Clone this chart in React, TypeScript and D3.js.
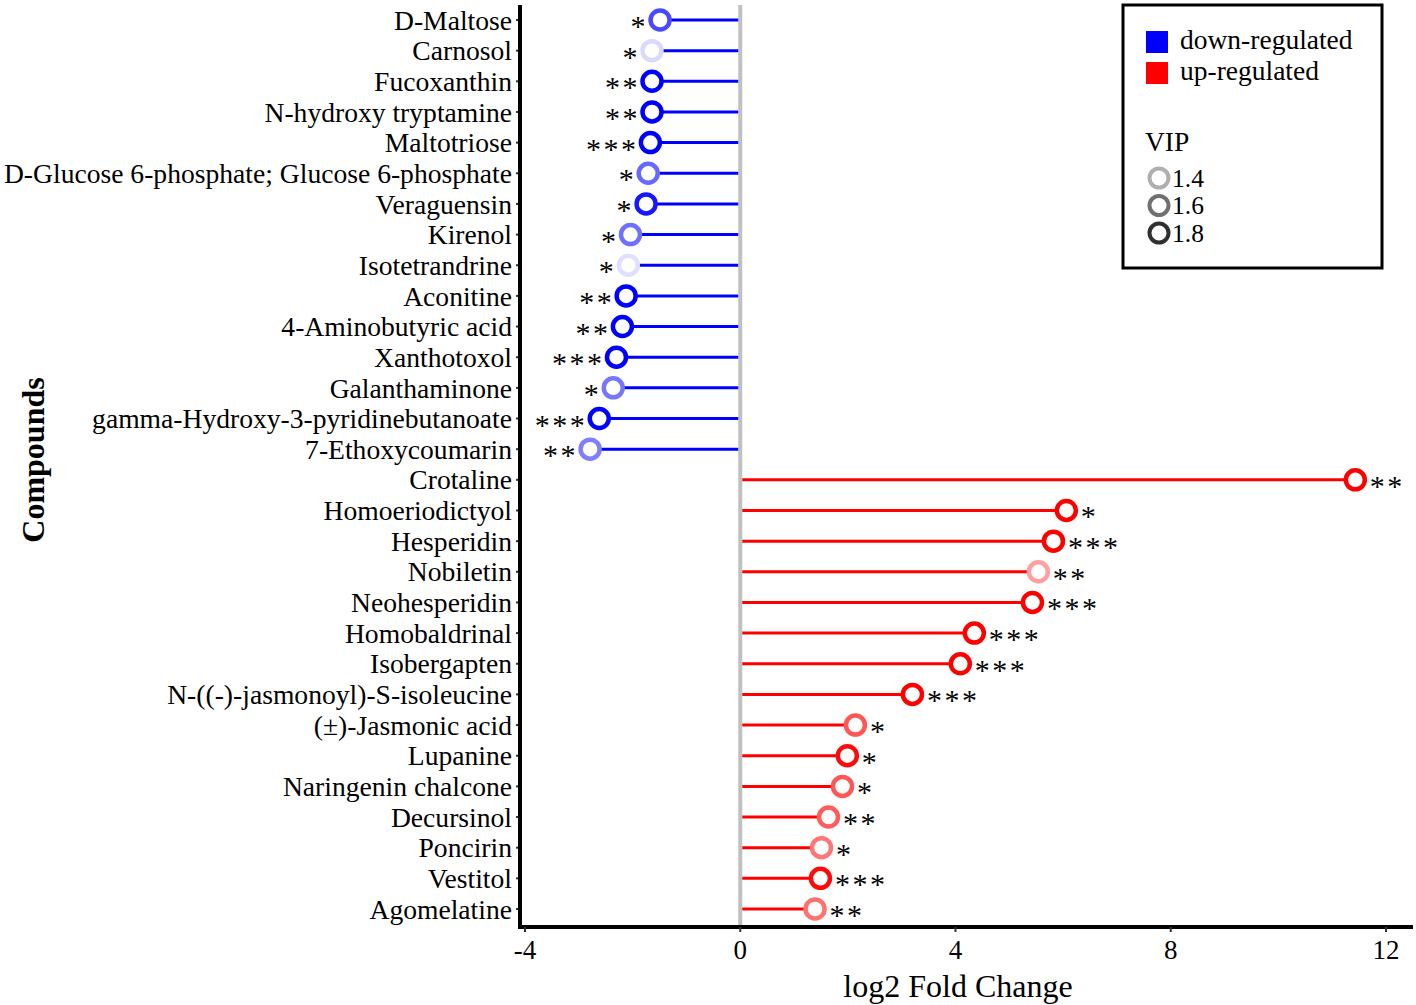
import React from "react";
import * as d3 from "d3";

const compounds = [
  "D-Maltose", "Carnosol", "Fucoxanthin", "N-hydroxy tryptamine", "Maltotriose",
  "D-Glucose 6-phosphate; Glucose 6-phosphate", "Veraguensin", "Kirenol", "Isotetrandrine",
  "Aconitine", "4-Aminobutyric acid", "Xanthotoxol", "Galanthaminone",
  "gamma-Hydroxy-3-pyridinebutanoate", "7-Ethoxycoumarin", "Crotaline", "Homoeriodictyol",
  "Hesperidin", "Nobiletin", "Neohesperidin", "Homobaldrinal", "Isobergapten",
  "N-((-)-jasmonoyl)-S-isoleucine", "(±)-Jasmonic acid", "Lupanine", "Naringenin chalcone",
  "Decursinol", "Poncirin", "Vestitol", "Agomelatine",
];
const log2FC = [
  -1.49, -1.64, -1.64, -1.64, -1.67, -1.71, -1.75, -2.04, -2.08, -2.12, -2.19, -2.3, -2.36,
  -2.62, -2.79, 11.43, 6.06, 5.82, 5.54, 5.43, 4.35, 4.09, 3.2, 2.14, 1.99, 1.9, 1.64, 1.51,
  1.49, 1.39,
];
const vip = [
  1.72, 1.27, 1.95, 1.95, 1.97, 1.62, 1.88, 1.6, 1.25, 1.95, 1.95, 1.95, 1.58, 1.95, 1.55,
  1.97, 1.95, 1.95, 1.45, 1.95, 1.95, 1.95, 1.95, 1.68, 1.92, 1.68, 1.66, 1.58, 1.92, 1.6,
];
const stars = [
  "*", "*", "**", "**", "***", "*", "*", "*", "*", "**", "**", "***", "*", "***", "**",
  "**", "*", "***", "**", "***", "***", "***", "***", "*", "*", "*", "**", "*", "***", "**",
];
const xTicks = [-4, 0, 4, 8, 12];
const legendVIP = [1.4, 1.6, 1.8];
const legendRegulation = [
  { label: "down-regulated", color: "#0000ff" },
  { label: "up-regulated", color: "#ff0000" },
];

const FONT = "'Liberation Serif', 'Times New Roman', serif";

export default function App() {
  const W = 1416, H = 1005;
  const left = 520, right = 1413, top = 5, bottom = 927;
  const x = d3.scaleLinear().domain([-4, 12]).range([525, 1386]);
  const y = d3.scalePoint<string>().domain(compounds).range([20, 909]);
  const t = d3.scaleLinear().domain([1.15, 1.95]).range([0, 1]).clamp(true);
  const colorFor = (v: number, base: string) => d3.interpolateRgb("#ffffff", base)(t(v));
  const x0 = x(0);
  const ls = 2.5;

  return (
    <svg width={W} height={H} style={{ position: "absolute", left: 0, top: 0, background: "#fff" }} fontFamily={FONT}>
      {/* zero line */}
      <line x1={x0} x2={x0} y1={top} y2={bottom} stroke="#c0c0c0" strokeWidth={4} />
      {compounds.map((c, i) => {
        const v = log2FC[i];
        const base = v < 0 ? "#0000ff" : "#ff0000";
        const cx = x(v);
        const cy = y(c)!;
        const r = 9.5;
        return (
          <g key={c}>
            <line x1={v < 0 ? x0 - 2 : x0 + 2} x2={cx} y1={cy} y2={cy} stroke={base} strokeWidth={3} />
            <circle cx={cx} cy={cy} r={r} fill="#fff" stroke={colorFor(vip[i], base)} strokeWidth={4.5} />
            <text
              x={v < 0 ? cx - r - 5 + ls : cx + r + 5}
              y={cy + 16}
              fontSize={30}
              letterSpacing={ls}
              textAnchor={v < 0 ? "end" : "start"}
              fill="#000"
            >
              {stars[i]}
            </text>
            <text x={left - 8} y={cy} dy="0.35em" fontSize={27.6} textAnchor="end" fill="#000">
              {c}
            </text>
            <line x1={left - 4} x2={left} y1={cy} y2={cy} stroke="#333" strokeWidth={2} />
          </g>
        );
      })}
      {/* axes */}
      <line x1={left} x2={left} y1={top} y2={bottom + 2} stroke="#000" strokeWidth={4} />
      <line x1={left - 2} x2={right} y1={bottom} y2={bottom} stroke="#000" strokeWidth={4} />
      {xTicks.map((tk) => (
        <g key={tk}>
          <line x1={x(tk)} x2={x(tk)} y1={bottom} y2={bottom + 5} stroke="#333" strokeWidth={2} />
          <text x={x(tk)} y={959} fontSize={27} textAnchor="middle" fill="#000">
            {tk}
          </text>
        </g>
      ))}
      <text x={958} y={997} fontSize={32} textAnchor="middle" fill="#000">
        log2 Fold Change
      </text>
      <text
        transform="translate(44,460) rotate(-90)"
        fontSize={32}
        fontWeight="bold"
        textAnchor="middle"
        fill="#000"
      >
        Compounds
      </text>
      {/* legend */}
      <rect x={1123} y={5} width={259} height={263} fill="#fff" stroke="#000" strokeWidth={3} />
      {legendRegulation.map((d, i) => (
        <g key={d.label}>
          <rect x={1146} y={31 + i * 31} width={22} height={22} fill={d.color} />
          <text x={1180} y={49 + i * 31} fontSize={27.5} fill="#000">
            {d.label}
          </text>
        </g>
      ))}
      <text x={1145} y={151} fontSize={27.5} fill="#000">
        VIP
      </text>
      {legendVIP.map((v, i) => (
        <g key={v}>
          <circle cx={1159} cy={178 + i * 27.5} r={9.5} fill="#fff" stroke={colorFor(v, "#000000")} strokeWidth={4} />
          <text x={1172} y={178 + i * 27.5} dy="0.35em" fontSize={25.5} fill="#000">
            {v.toFixed(1)}
          </text>
        </g>
      ))}
    </svg>
  );
}
